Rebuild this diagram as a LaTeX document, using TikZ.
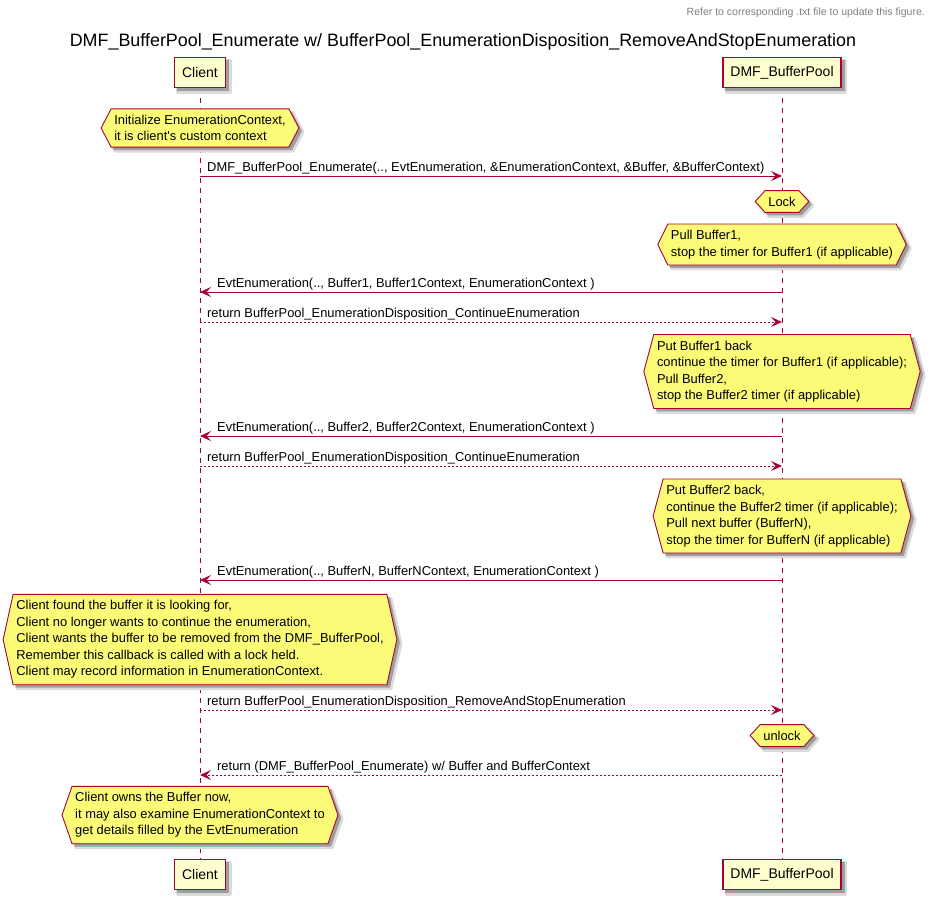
\documentclass[tikz,border=0pt]{standalone}
\usepackage{fontspec}
\setmainfont{Liberation Sans}[Ligatures=TeXOff]
\usetikzlibrary{arrows.meta}
\definecolor{pumlred}{HTML}{A80036}
\definecolor{partfill}{HTML}{FEFECE}
\definecolor{notefill}{HTML}{FBFB77}
\pgfdeclarelayer{lifelayer}
\pgfdeclarelayer{bg}
\pgfsetlayers{lifelayer,bg,main}
\tikzset{
  shadowouter/.style={draw=black!14,line width=3pt,fill=black!14,line join=round},
  shadowinner/.style={fill=black!38},
  participant/.style={draw=pumlred,fill=partfill,line width=1.3pt,minimum height=30pt,
    inner xsep=7.5pt,inner ysep=0pt,font=\fontsize{14}{16}\selectfont},
  lifeline/.style={draw=pumlred,line width=0.9pt,dash pattern=on 5pt off 5pt},
  msg/.style={draw=pumlred,line width=0.9pt,-{Stealth[length=11pt,width=10pt,inset=4.5pt,fill=pumlred]}},
  ret/.style={msg,dash pattern=on 2pt off 2pt},
  msglabel/.style={font=\fontsize{12.9}{15}\selectfont,anchor=base west,inner sep=0pt},
  notetext/.style={font=\fontsize{12.9}{16.5}\selectfont,align=left,inner xsep=3pt,inner ysep=6pt},
  hexline/.style={draw=pumlred,fill=notefill,line width=0.9pt},
  headerstyle/.style={font=\fontsize{10.5}{12}\selectfont,text=black!50,inner sep=0pt},
  titlestyle/.style={font=\fontsize{17.9}{20}\selectfont,inner sep=0pt}
}
\newcommand\participantbox[4]{% name, x, y, text
  \node[participant] (#1) at (#2,#3) {#4};
  \begin{pgfonlayer}{bg}
  \path[shadowouter] ([shift={(4pt,-4pt)}]#1.south west) rectangle ([shift={(4pt,-4pt)}]#1.north east);
  \path[shadowinner] ([shift={(3pt,-3pt)}]#1.south west) rectangle ([shift={(3pt,-3pt)}]#1.north east);
  \end{pgfonlayer}}
\newcommand\msgR[4]{%
  \coordinate (#4a) at (200,#1);
  \coordinate (#4b) at (782,#1);
  \draw[#2] (#4a) -- (#4b);
  \node[msglabel] (#4l) at (207,#1-5) {#3};}
\newcommand\msgL[4]{%
  \coordinate (#4a) at (200,#1);
  \coordinate (#4b) at (782,#1);
  \draw[#2] (#4b) -- (#4a);
  \node[msglabel] (#4l) at (217,#1-5) {#3};}
\newcommand\hexpath[1]{(#1.north west) -- (#1.north east) -- ([xshift=10pt]#1.east)
    -- (#1.south east) -- (#1.south west) -- ([xshift=-10pt]#1.west) -- cycle}
\newcommand\hexnote[4]{%
  \node[notetext] (#1) at (#2,#3) {#4};
  \begin{pgfonlayer}{bg}
  \begin{scope}[transform canvas={shift={(4pt,-4pt)}}]
  \path[shadowouter] \hexpath{#1};
  \end{scope}
  \begin{scope}[transform canvas={shift={(3pt,-3pt)}}]
  \path[shadowinner] \hexpath{#1};
  \end{scope}
  \path[hexline] \hexpath{#1};
  \end{pgfonlayer}}
\begin{document}
\begin{tikzpicture}[x=1pt,y=-1pt]
\useasboundingbox (0,0) rectangle (931,903);
\begin{pgfonlayer}{lifelayer}
\fill[white] (0,0) rectangle (931,903);
\end{pgfonlayer}
\node[headerstyle,anchor=base east] (hdr) at (925,15) {Refer to corresponding .txt file to update this figure.};
\node[titlestyle,anchor=base] (ttl) at (463,46) {DMF\_BufferPool\_Enumerate w/ BufferPool\_EnumerationDisposition\_RemoveAndStopEnumeration};
\participantbox{ct}{200}{72.5}{Client}
\participantbox{dt}{782}{72.5}{DMF\_BufferPool}
\participantbox{cb}{200}{874.5}{Client}
\participantbox{db}{782}{874.5}{DMF\_BufferPool}
\begin{pgfonlayer}{lifelayer}
\draw[lifeline] (ct.south) -- (cb.north);
\draw[lifeline] (dt.south) -- (db.north);
\end{pgfonlayer}
\hexnote{n1}{200}{128}{Initialize EnumerationContext,\\it is client's custom context}
\msgR{176}{msg}{DMF\_BufferPool\_Enumerate(.., EvtEnumeration, \&EnumerationContext, \&Buffer, \&BufferContext)}{m1}
\hexnote{n2}{782}{201.5}{Lock}
\hexnote{n3}{782}{244.5}{Pull Buffer1,\\stop the timer for Buffer1 (if applicable)}
\msgL{292}{msg}{EvtEnumeration(.., Buffer1, Buffer1Context, EnumerationContext )}{m2}
\msgR{322}{ret}{return BufferPool\_EnumerationDisposition\_ContinueEnumeration}{m3}
\hexnote{n4}{782}{371.5}{Put Buffer1 back\\continue the timer for Buffer1 (if applicable);\\Pull Buffer2,\\stop the Buffer2 timer (if applicable)}
\msgL{436}{msg}{EvtEnumeration(.., Buffer2, Buffer2Context, EnumerationContext )}{m4}
\msgR{466}{ret}{return BufferPool\_EnumerationDisposition\_ContinueEnumeration}{m5}
\hexnote{n5}{782}{516}{Put Buffer2 back,\\continue the Buffer2 timer (if applicable);\\Pull next buffer (BufferN),\\stop the timer for BufferN (if applicable)}
\msgL{580}{msg}{EvtEnumeration(.., BufferN, BufferNContext, EnumerationContext )}{m6}
\hexnote{n6}{200}{639.5}{Client found the buffer it is looking for,\\Client no longer wants to continue the enumeration,\\Client wants the buffer to be removed from the DMF\_BufferPool,\\Remember this callback is called with a lock held.\\Client may record information in EnumerationContext.}
\msgR{710}{ret}{return BufferPool\_EnumerationDisposition\_RemoveAndStopEnumeration}{m7}
\hexnote{n7}{782}{735.5}{unlock}
\msgL{775}{ret}{return (DMF\_BufferPool\_Enumerate) w/ Buffer and BufferContext}{m8}
\hexnote{n8}{200}{815}{Client owns the Buffer now,\\it may also examine EnumerationContext to\\get details filled by the EvtEnumeration}
\end{tikzpicture}
\end{document}
